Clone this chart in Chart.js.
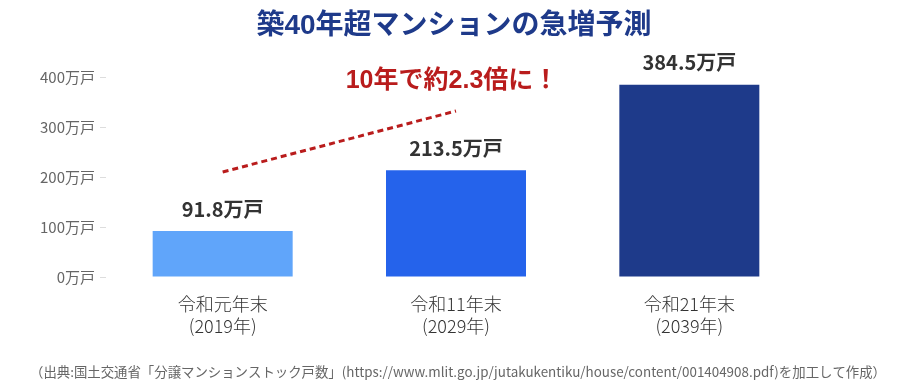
<!DOCTYPE html>
<html><head><meta charset="utf-8">
<script src="https://cdn.jsdelivr.net/npm/chart.js@4.4.1/dist/chart.umd.min.js"></script>
<style>html,body{margin:0;padding:0;background:#fff}#wrap{width:901px;height:392px}</style>
</head><body><div id="wrap"><canvas id="c" width="901" height="392"></canvas></div>
<script>
const categories = [["令和元年末","(2019年)"],["令和11年末","(2029年)"],["令和21年末","(2039年)"]];
const values = [91.8, 213.5, 384.5];
const valueLabels = ["91.8万戸","213.5万戸","384.5万戸"];
const trendLine = [210, 332, null];
const yTicks = [0,100,200,300,400];
const barColors = ["#60a5fa","#2563eb","#1e3a8a"];
const titleText = "築40年超マンションの急増予測";
const calloutText = "10年で約2.3倍に！";
const sourceText = "（出典:国土交通省「分譲マンションストック戸数」(https://www.mlit.go.jp/jutakukentiku/house/content/001404908.pdf)を加工して作成）";
const FONT = "'Noto Sans CJK JP','Noto Sans',sans-serif";
const HEAD_FONT = "'Liberation Sans','Noto Sans CJK JP',sans-serif";

const textPlugin = {
  id: 'texts',
  afterDraw(chart) {
    const ctx = chart.ctx;
    ctx.save();
    ctx.textAlign = 'center';
    ctx.textBaseline = 'middle';
    ctx.fillStyle = '#1e3a8a';
    ctx.font = "bold 28px " + HEAD_FONT;
    ctx.fillText(titleText, 454, 26);
    ctx.fillStyle = '#b91c1c';
    ctx.font = "bold 25px " + HEAD_FONT;
    ctx.fillText(calloutText, 452, 81);
    ctx.fillStyle = '#666';
    ctx.font = "13.4px " + FONT;
    ctx.fillText(sourceText, 458, 372);
    const meta = chart.getDatasetMeta(0);
    ctx.fillStyle = '#333';
    ctx.font = "bold 20px " + FONT;
    meta.data.forEach((bar, i) => {
      ctx.fillText(valueLabels[i], bar.x, bar.y - 22);
    });
    ctx.restore();
  }
};

new Chart(document.getElementById('c'), {
  type: 'bar',
  data: {
    labels: categories,
    datasets: [
      { type: 'bar', data: values, backgroundColor: barColors, barPercentage: 0.6, categoryPercentage: 1.0, order: 2 },
      { type: 'line', data: trendLine, borderColor: '#b91c1c', borderWidth: 3, borderDash: [6,4], pointRadius: 0, fill: false, order: 1, spanGaps: false }
    ]
  },
  options: {
    responsive: false,
    animation: false,
    devicePixelRatio: 1,
    layout: { padding: { top: 77, right: 95, left: 0, bottom: 0 } },
    plugins: { legend: { display: false }, tooltip: { enabled: false }, title: { display: false } },
    scales: {
      x: {
        grid: { display: false },
        border: { display: false },
        ticks: { color: '#333', font: { family: FONT, size: 18, weight: 300, lineHeight: 1.22 }, padding: 8 },
        afterFit(s) { s.height = 115; }
      },
      y: {
        min: 0, max: 400,
        afterBuildTicks(s) { s.ticks = yTicks.map(v => ({ value: v })); },
        grid: { display: true, drawOnChartArea: false, drawTicks: true, tickLength: 6, color: '#ddd' },
        border: { display: false },
        ticks: { color: '#666', font: { family: FONT, size: 15 }, padding: 5, callback: v => v + '万戸' },
        afterFit(s) { s.width = 106; }
      }
    }
  },
  plugins: [textPlugin]
});
</script></body></html>
